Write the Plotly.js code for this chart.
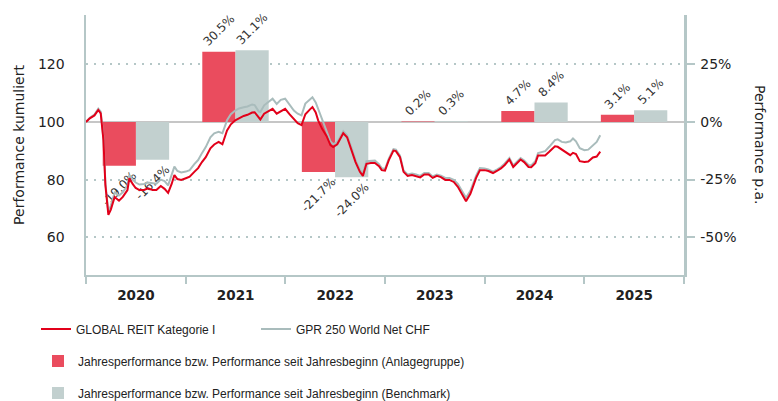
<!DOCTYPE html>
<html><head><meta charset="utf-8">
<script src="https://cdn.plot.ly/plotly-3.0.1.min.js"></script>
<style>html,body{margin:0;padding:0;background:#fff}#chart{width:778px;height:401px}</style>
</head><body><div id="chart"></div>
<script>
// ---- data ----
const dates = ['2020-01-01','2020-01-15','2020-02-01','2020-02-15','2020-02-24','2020-03-05','2020-03-12','2020-03-23','2020-04-01','2020-04-15','2020-05-01','2020-05-15','2020-06-01','2020-06-08','2020-06-20','2020-07-01','2020-07-15','2020-08-01','2020-08-15','2020-09-01','2020-09-15','2020-10-01','2020-10-15','2020-10-28','2020-11-10','2020-11-20','2020-12-01','2020-12-15',
'2021-01-01','2021-01-15','2021-02-01','2021-02-15','2021-03-01','2021-03-15','2021-04-01','2021-04-15','2021-05-01','2021-05-15','2021-06-01','2021-06-15','2021-07-01','2021-07-15','2021-08-01','2021-08-15','2021-09-01','2021-09-10','2021-09-25','2021-10-01','2021-10-15','2021-11-01','2021-11-15','2021-11-30','2021-12-15','2021-12-31',
'2022-01-15','2022-02-01','2022-02-15','2022-03-01','2022-03-15','2022-04-01','2022-04-10','2022-04-22','2022-05-01','2022-05-15','2022-06-01','2022-06-15','2022-06-25','2022-07-10','2022-08-01','2022-08-15','2022-09-01','2022-09-15','2022-10-01','2022-10-12','2022-10-25','2022-11-10','2022-11-25','2022-12-10','2022-12-20',
'2023-01-01','2023-01-15','2023-02-01','2023-02-10','2023-02-25','2023-03-10','2023-03-25','2023-04-10','2023-04-25','2023-05-10','2023-05-25','2023-06-10','2023-06-25','2023-07-10','2023-07-25','2023-08-10','2023-08-25','2023-09-10','2023-09-25','2023-10-10','2023-10-25','2023-11-10','2023-11-20','2023-12-01','2023-12-15',
'2024-01-01','2024-01-15','2024-02-01','2024-02-15','2024-03-01','2024-03-15','2024-04-01','2024-04-15','2024-05-01','2024-05-12','2024-05-25','2024-06-10','2024-06-20','2024-07-05','2024-07-15','2024-07-25','2024-08-10','2024-08-25','2024-09-15','2024-09-25','2024-10-10','2024-10-25','2024-11-10','2024-11-20','2024-12-01','2024-12-15',
'2025-01-01','2025-01-15','2025-02-01','2025-02-15','2025-02-28'];

const fundValues = [100.0,101.3,102.3,104.2,103.0,93.7,78.2,67.8,69.6,74.0,72.7,74.0,76.4,80.5,78.5,77.1,76.4,76.4,77.0,76.4,76.4,77.8,76.8,75.4,78.5,81.6,80.2,79.9,
80.5,81.0,82.7,84.0,86.1,87.8,90.9,92.2,93.1,92.3,97.1,99.2,100.6,101.4,102.1,102.5,103.3,103.4,101.3,100.9,102.9,104.0,104.6,102.9,103.7,104.6,
102.8,101.1,99.6,98.9,102.7,104.4,105.2,103.3,100.6,97.7,95.1,92.0,91.3,92.3,96.1,94.7,90.2,86.1,82.7,81.3,85.5,85.8,85.8,84.7,83.3,
83.1,86.8,90.1,89.9,87.8,82.7,81.3,81.6,81.3,80.8,81.8,81.8,80.6,81.3,80.9,79.9,79.9,79.2,77.5,75.1,72.5,75.1,77.8,80.6,83.3,
83.3,83.0,82.3,83.0,83.9,85.1,87.0,84.4,86.1,87.0,86.1,84.4,84.3,85.7,88.4,88.5,88.4,89.7,91.6,91.4,90.4,89.6,88.5,89.3,88.9,86.4,
86.1,86.3,87.7,88.0,89.7];

const benchValues = [100.0,101.5,102.6,104.6,103.6,94.2,79.0,68.6,71.0,75.5,74.5,75.6,78.0,81.6,80.0,79.0,78.3,78.5,79.0,78.7,78.6,80.0,79.5,78.0,81.5,84.5,83.0,82.5,
82.8,83.3,85.4,86.8,89.2,91.3,94.7,96.1,96.6,96.1,100.6,102.7,104.0,104.7,105.1,105.4,106.1,105.9,103.7,103.5,105.8,107.1,108.1,106.3,107.7,108.1,
106.1,104.0,102.9,102.3,106.4,107.8,108.6,106.8,104.6,100.6,96.8,93.3,92.3,93.0,96.8,95.4,90.9,86.8,83.3,82.0,86.4,86.4,86.6,85.4,84.0,
83.7,87.3,90.6,90.4,88.3,83.2,81.8,82.1,81.8,81.3,82.3,82.3,81.1,81.8,81.4,80.6,80.6,79.9,78.5,76.1,73.7,76.1,78.7,81.4,84.0,
83.9,83.5,82.8,83.5,84.4,85.6,87.5,84.9,86.6,87.5,86.6,85.1,84.9,86.4,89.2,89.4,89.9,91.4,93.7,94.0,93.1,92.9,93.3,94.3,93.3,90.9,
90.2,90.4,92.0,93.1,95.4];

const years = ['2020','2021','2022','2023','2024','2025'];
const fundYearPerf = [-19.0, 30.5, -21.7, 0.2, 4.7, 3.1];
const benchYearPerf = [-16.4, 31.1, -24.0, 0.3, 8.4, 5.1];

const leftTicks = [60, 80, 100, 120];
const rightTicks = [-50, -25, 0, 25];
const rightTickText = ['-50%', '-25%', '0%', '25%'];

const fundName = 'GLOBAL REIT Kategorie I';
const benchName = 'GPR 250 World Net CHF';
const fundBarName = 'Jahresperformance bzw. Performance seit Jahresbeginn (Anlagegruppe)';
const benchBarName = 'Jahresperformance bzw. Performance seit Jahresbeginn (Benchmark)';

// ---- styling ----
const axisColor = '#b5c7c7';
const redLine = '#e2001a';
const grayLine = '#a9bcbc';
const redBar = '#ea4c5e';
const grayBar = '#c2d0cf';
const FONT = 'DejaVu Sans, Verdana, sans-serif';
const LFONT = 'Liberation Sans, Arial, sans-serif';

const yearMid = years.map(y => y + '-07-02');
const thirdYear = 365.25 * 86400000 / 3;

const barCommon = {
  type: 'bar', x: yearMid, xaxis: 'x', yaxis: 'y',
  width: years.map(() => thirdYear),
  textposition: 'outside', textangle: -45, cliponaxis: false, constraintext: 'none',
  texttemplate: '%{y:.1f}%',
  textfont: {family: FONT, size: 12, color: '#333'},
  hoverinfo: 'skip'
};

const traces = [
  Object.assign({}, barCommon, {name: fundBarName, y: fundYearPerf, offset: years.map(() => -thirdYear),
    marker: {color: redBar}, legend: 'legend3'}),
  Object.assign({}, barCommon, {name: benchBarName, y: benchYearPerf, offset: years.map(() => 0),
    marker: {color: grayBar}, legend: 'legend4'}),
  {type: 'scatter', mode: 'lines', name: benchName, x: dates, y: benchValues, xaxis: 'x', yaxis: 'y2',
    line: {color: grayLine, width: 2}, legend: 'legend2'},
  {type: 'scatter', mode: 'lines', name: fundName, x: dates, y: fundValues, xaxis: 'x', yaxis: 'y2',
    line: {color: redLine, width: 2}, legend: 'legend'}
];

const px = v => (v - 86) / 598;
const py = v => (275 - v) / 260;
const legendBase = {xanchor: 'left', yanchor: 'middle', orientation: 'h', bgcolor: 'rgba(0,0,0,0)',
  font: {family: LFONT, size: 12, color: '#222'}};

const layout = {
  width: 778, height: 401,
  margin: {l: 86, r: 94, t: 15, b: 126, autoexpand: false},
  paper_bgcolor: '#fff', plot_bgcolor: '#fff',
  font: {family: FONT, size: 13.5, color: '#222'},
  barmode: 'overlay',
  showlegend: true,
  xaxis: {type: 'date', range: ['2020-01-01', '2026-01-01'], tick0: '2020-01-01', dtick: 'M12',
    tickformat: '%Y', ticklabelmode: 'period', ticks: 'outside', ticklen: 7, tickwidth: 2,
    tickcolor: axisColor, showline: true, linecolor: axisColor, linewidth: 2, showgrid: false,
    zeroline: false, tickfont: {family: FONT, size: 13.5, weight: 'bold', color: '#222'}},
  yaxis: {side: 'right', range: [-66.4, 46.4], tickmode: 'array', tickvals: rightTicks, ticktext: rightTickText,
    ticks: 'outside', ticklen: 8, tickwidth: 2, tickcolor: axisColor, showline: true,
    linecolor: axisColor, linewidth: 2.5, showgrid: true, gridcolor: axisColor, gridwidth: 2,
    griddash: '2px,6px', zeroline: true, zerolinecolor: '#c6c6c6', zerolinewidth: 1.5,
    ticklabelstandoff: 3, tickfont: {size: 14}},
  yaxis2: {overlaying: 'y', side: 'left', range: [46.9, 137.15], tickmode: 'array', tickvals: leftTicks,
    showgrid: false, zeroline: false, showline: true, linecolor: axisColor, linewidth: 2.5,
    ticks: '', ticklabelstandoff: 16, tickfont: {size: 14},
    title: {text: 'Performance kumuliert', font: {size: 14}, standoff: 10}},
  legend: Object.assign({}, legendBase, {x: px(36), y: py(329)}),
  legend2: Object.assign({}, legendBase, {x: px(256), y: py(329)}),
  legend3: Object.assign({}, legendBase, {x: px(38), y: py(361)}),
  legend4: Object.assign({}, legendBase, {x: px(38), y: py(393)}),
  annotations: [
    {xref: 'paper', yref: 'paper', x: px(760), y: 0.5, xanchor: 'center', yanchor: 'middle',
      text: 'Performance p.a.', textangle: 90,
      showarrow: false, font: {family: FONT, size: 14, color: '#222'}}
  ]
};

Plotly.newPlot('chart', traces, layout, {staticPlot: true, displayModeBar: false});
</script>
</body></html>
